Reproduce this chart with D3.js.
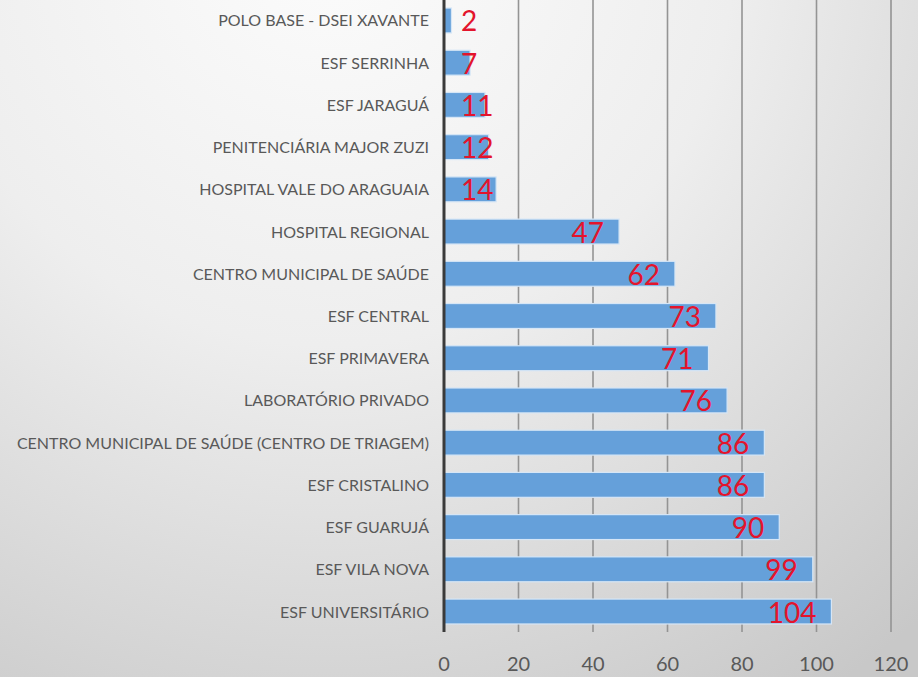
<!DOCTYPE html>
<html>
<head>
<meta charset="utf-8">
<script src="https://cdn.jsdelivr.net/npm/d3@7"></script>
<style>
    html, body { margin: 0; padding: 0; }
    #chart { width: 918px; height: 677px; }
</style>
</head>
<body>
<div id="chart"></div>
<script>
// chart data
const categories = [
    "POLO BASE - DSEI XAVANTE",
    "ESF SERRINHA",
    "ESF JARAGUÁ",
    "PENITENCIÁRIA MAJOR ZUZI",
    "HOSPITAL VALE DO ARAGUAIA",
    "HOSPITAL REGIONAL",
    "CENTRO MUNICIPAL DE SAÚDE",
    "ESF CENTRAL",
    "ESF PRIMAVERA",
    "LABORATÓRIO PRIVADO",
    "CENTRO MUNICIPAL DE SAÚDE (CENTRO DE TRIAGEM)",
    "ESF CRISTALINO",
    "ESF GUARUJÁ",
    "ESF VILA NOVA",
    "ESF UNIVERSITÁRIO"
];
const values = [2, 7, 11, 12, 14, 47, 62, 73, 71, 76, 86, 86, 90, 99, 104];
const xTicks = [0, 20, 40, 60, 80, 100, 120];

const width = 918, height = 677;
const font = "Lato, 'Open Sans', sans-serif";

const svg = d3.select("#chart")
    .append("svg")
    .attr("width", width)
    .attr("height", height);

// background gradient
const defs = svg.append("defs");
const grad = defs.append("radialGradient")
    .attr("id", "bg")
    .attr("gradientUnits", "userSpaceOnUse")
    .attr("cx", 330).attr("cy", -60).attr("r", 900);
grad.append("stop").attr("offset", "0%").attr("stop-color", "#fcfcfc");
grad.append("stop").attr("offset", "45%").attr("stop-color", "#eeeeee");
grad.append("stop").attr("offset", "100%").attr("stop-color", "#c8c8c8");

svg.append("rect")
    .attr("width", width)
    .attr("height", height)
    .attr("fill", "url(#bg)");

// scales
const x = d3.scaleLinear()
    .domain([0, 120])
    .range([444, 891]);

const y = d3.scaleBand()
    .domain(categories)
    .range([0, 632])
    .paddingInner(0.41)
    .paddingOuter(0.19);

// gridlines
svg.append("g")
    .selectAll("line")
    .data(xTicks.slice(1))
    .join("line")
    .attr("x1", d => x(d))
    .attr("x2", d => x(d))
    .attr("y1", 0)
    .attr("y2", 632)
    .attr("stroke", "#949494")
    .attr("stroke-width", 1.6);

// tick labels
svg.append("g")
    .selectAll("text")
    .data(xTicks)
    .join("text")
    .attr("x", d => x(d))
    .attr("y", 671)
    .attr("text-anchor", "middle")
    .style("font-family", font)
    .style("font-size", "20px")
    .attr("fill", "#595959")
    .text(d => d);

// bars
svg.append("g")
    .selectAll("rect")
    .data(values)
    .join("rect")
    .attr("x", x(0))
    .attr("y", (d, i) => y(categories[i]))
    .attr("width", d => x(d) - x(0))
    .attr("height", y.bandwidth())
    .attr("fill", "#65a0da")
    .attr("stroke", "#d6e6f6")
    .attr("stroke-width", 1.2);

// axis line
svg.append("line")
    .attr("x1", x(0))
    .attr("x2", x(0))
    .attr("y1", 0)
    .attr("y2", 632)
    .attr("stroke", "#3a3a3a")
    .attr("stroke-width", 3);

// category labels
svg.append("g")
    .selectAll("text")
    .data(categories)
    .join("text")
    .attr("x", 429)
    .attr("y", d => y(d) + y.bandwidth() / 2 + 6)
    .attr("text-anchor", "end")
    .style("font-family", font)
    .style("font-size", "16px")
    .attr("fill", "#595959")
    .text(d => d);

// value labels, inside end of the bar but never closer than 17px to the axis
const minLeft = x(0) + 17;
svg.append("g")
    .selectAll("text")
    .data(values)
    .join("text")
    .attr("y", (d, i) => y(categories[i]) + y.bandwidth() / 2 + 11)
    .style("font-family", font)
    .style("font-size", "28px")
    .attr("fill", "#e3142c")
    .text(d => d)
    .each(function (d) {
        const w = this.getComputedTextLength();
        let right = x(d) - 15;
        if (right - w < minLeft) right = minLeft + w;
        d3.select(this).attr("x", right - w);
    });
</script>
</body>
</html>
